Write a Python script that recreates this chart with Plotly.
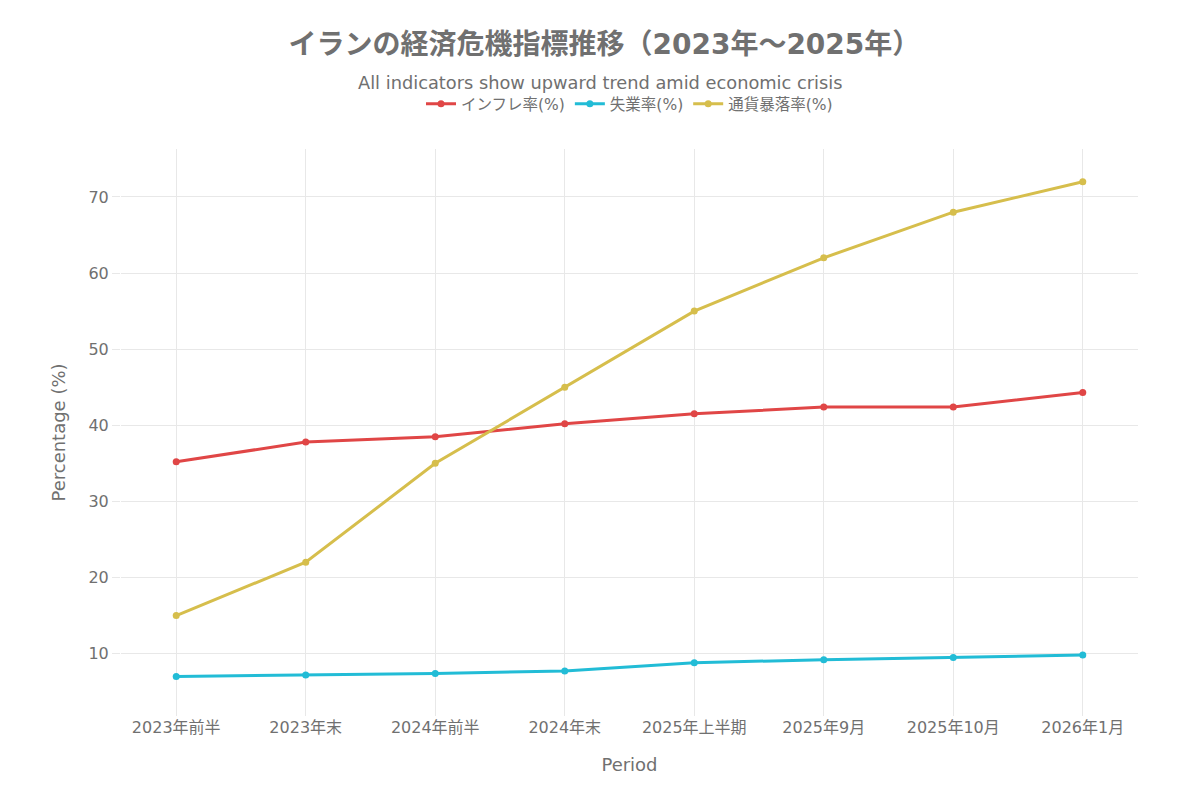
import plotly.graph_objects as go

periods = ["2023年前半", "2023年末", "2024年前半", "2024年末", "2025年上半期", "2025年9月", "2025年10月", "2026年1月"]
inflation = [35.2, 37.8, 38.5, 40.2, 41.5, 42.4, 42.4, 44.3]
unemployment = [7.0, 7.2, 7.4, 7.7, 8.8, 9.2, 9.5, 9.8]
currency_drop = [15, 22, 35, 45, 55, 62, 68, 72]

names = ["インフレ率(%)", "失業率(%)", "通貨暴落率(%)"]
colors = ["#E04646", "#22BCD6", "#D6BE4C"]

title_text = "<b>イランの経済危機指標推移（2023年～2025年）</b>"
subtitle_text = "All indicators show upward trend amid economic crisis"

font_family = "DejaVu Sans, Noto Sans CJK JP, sans-serif"

fig = go.Figure()
for name, vals, c in zip(names, [inflation, unemployment, currency_drop], colors):
    fig.add_trace(go.Scatter(
        x=periods, y=vals, name=name, mode="lines+markers",
        line=dict(color=c, width=3), marker=dict(color=c, size=7),
    ))

fig.update_layout(
    width=1200, height=800,
    paper_bgcolor="white", plot_bgcolor="white",
    font=dict(family=font_family, color="#707070", size=15),
    title=dict(
        text=title_text,
        x=0.497, xanchor="center", y=0.955, yanchor="middle",
        font=dict(size=28, color="#707070", family=font_family),
    ),
    annotations=[dict(
        text=subtitle_text, xref="paper", yref="paper", x=0.471, y=1.117,
        xanchor="center", yanchor="middle", showarrow=False,
        font=dict(size=17.8, color="#707070", family=font_family),
    )],
    legend=dict(orientation="h", x=0.5, xanchor="center", y=1.079, yanchor="middle",
                font=dict(size=15.5, color="#707070"), bgcolor="rgba(0,0,0,0)"),
    margin=dict(l=113, r=70, t=141, b=92),
    xaxis=dict(title=dict(text="Period", font=dict(size=18), standoff=22),
               showgrid=True, gridcolor="#E8E8E8", zeroline=False,
               showline=False, ticks="", tickfont=dict(size=16)),
    yaxis=dict(title=dict(text="Percentage (%)", font=dict(size=18), standoff=18),
               range=[1.8, 76.3], dtick=10,
               showgrid=True, gridcolor="#E8E8E8", zeroline=False,
               ticks="outside", ticklen=8, tickcolor="#E8E8E8", tickfont=dict(size=16)),
)

fig.write_html("out.html")
